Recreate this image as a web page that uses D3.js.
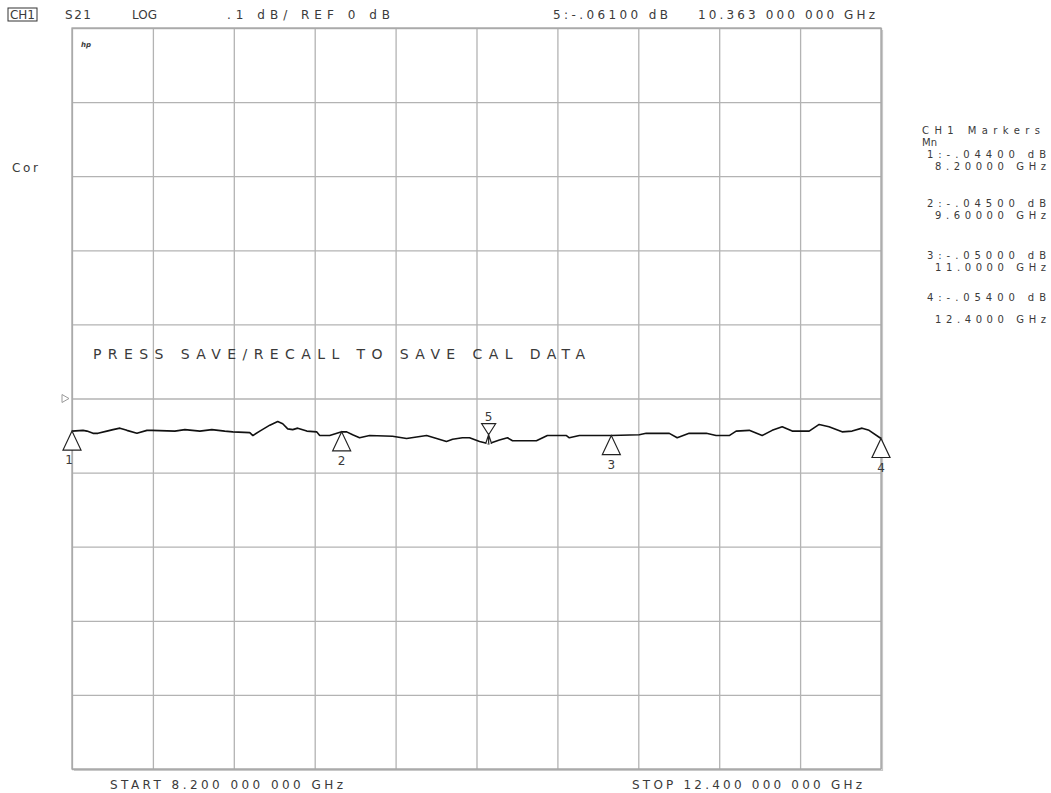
<!DOCTYPE html>
<html>
<head>
<meta charset="utf-8">
<script src="https://cdn.jsdelivr.net/npm/d3@7"></script>
<style>
  body { margin: 0; background: #fff; }
  text { font-family: "DejaVu Sans", sans-serif; fill: #3a3a3a; }
</style>
</head>
<body>
<svg id="vna" width="1051" height="793"></svg>
<script>
// S21 trace (GHz / dB)
const freqGHz = [8.200, 8.257, 8.278, 8.309, 8.335, 8.381, 8.413, 8.449, 8.485, 8.537,
  8.589, 8.615, 8.734, 8.786, 8.864, 8.926, 8.993, 9.035, 9.123, 9.139,
  9.175, 9.227, 9.268, 9.294, 9.320, 9.346, 9.372, 9.419, 9.470, 9.486,
  9.538, 9.600, 9.626, 9.657, 9.693, 9.745, 9.864, 9.937, 10.041, 10.093,
  10.144, 10.176, 10.227, 10.264, 10.316, 10.363, 10.419, 10.461, 10.487, 10.611,
  10.668, 10.767, 10.782, 10.834, 11.000, 11.145, 11.181, 11.301, 11.342, 11.404,
  11.493, 11.544, 11.612, 11.648, 11.716, 11.783, 11.835, 11.887, 11.939, 12.027,
  12.079, 12.130, 12.198, 12.250, 12.302, 12.338, 12.400];
const s21dB = [-0.044, -0.043, -0.044, -0.047, -0.047, -0.044, -0.042, -0.040, -0.043, -0.047,
  -0.043, -0.043, -0.044, -0.042, -0.044, -0.042, -0.044, -0.045, -0.046, -0.050,
  -0.044, -0.036, -0.031, -0.034, -0.041, -0.042, -0.040, -0.044, -0.045, -0.050,
  -0.050, -0.045, -0.045, -0.049, -0.053, -0.050, -0.051, -0.054, -0.050, -0.054,
  -0.058, -0.055, -0.053, -0.053, -0.058, -0.061, -0.056, -0.053, -0.057, -0.057,
  -0.050, -0.050, -0.053, -0.050, -0.050, -0.049, -0.047, -0.047, -0.053, -0.047,
  -0.047, -0.050, -0.050, -0.044, -0.043, -0.050, -0.043, -0.038, -0.044, -0.044,
  -0.035, -0.038, -0.045, -0.044, -0.040, -0.043, -0.054];

// markers
const markerNo = [1, 2, 3, 4, 5];
const markerGHz = [8.2, 9.6, 11.0, 12.4, 10.363];
const markerdB = [-0.044, -0.045, -0.050, -0.054, -0.061];
const activeMarker = 5;

// graticule: 10 x 10 divisions, .1 dB/div, ref 0 dB at centre
const xGridGHz = [8.2, 8.62, 9.04, 9.46, 9.88, 10.3, 10.72, 11.14, 11.56, 11.98, 12.4];
const yGriddB = [-0.5, -0.4, -0.3, -0.2, -0.1, 0, 0.1, 0.2, 0.3, 0.4, 0.5];
const refdB = 0;

// screen annotations
const headerTexts = ["S21", "LOG", ".1 dB/ REF 0 dB", "5:-.06100 dB", "10.363 000 000 GHz"];
const markerListLines = ["CH1 Markers", "M n", "1:-.04400 dB", "8.20000 GHz", "2:-.04500 dB", "9.60000 GHz",
  "3:-.05000 dB", "11.0000 GHz", "4:-.05400 dB", "12.4000 GHz"];
const startLabel = "START  8.200 000 000 GHz";
const stopLabel = "STOP 12.400 000 000 GHz";
const promptLabel = "PRESS  SAVE/RECALL  TO  SAVE  CAL  DATA";

const frame = { left: 72, right: 881, top: 28, bottom: 769 };
const svg = d3.select("#vna");

const x = d3.scaleLinear().domain([8.2, 12.4]).range([frame.left, frame.right]);
const y = d3.scaleLinear().domain([-0.5, 0.5]).range([frame.bottom, frame.top]);

// grid lines through axes with full-length ticks
const gridColor = "#b3b3b3";
const gx = svg.append("g")
  .attr("transform", `translate(0,${ frame.bottom })`)
  .call(d3.axisBottom(x).tickValues(xGridGHz).tickSize(-(frame.bottom - frame.top)).tickFormat(""));
const gy = svg.append("g")
  .attr("transform", `translate(${ frame.left },0)`)
  .call(d3.axisLeft(y).tickValues(yGriddB).tickSize(-(frame.right - frame.left)).tickFormat(""));
[gx, gy].forEach(g =>
{
  g.select(".domain").remove();
  g.selectAll(".tick line").attr("stroke", gridColor).attr("stroke-width", 1.3);
});

// frame with a little shadow on right / bottom
svg.append("rect")
  .attr("x", frame.left).attr("y", frame.top)
  .attr("width", frame.right - frame.left).attr("height", frame.bottom - frame.top)
  .attr("fill", "none").attr("stroke", "#a6a6a6").attr("stroke-width", 1.3);
svg.append("path")
  .attr("d", `M${ frame.right + 1.5 },${ frame.top + 2 }V${ frame.bottom + 1.5 }H${ frame.left + 2 }`)
  .attr("fill", "none").attr("stroke", "#c8c8c8").attr("stroke-width", 1.2);

// reference level pointer
svg.append("path")
  .attr("d", `M${ frame.left - 10 },${ y(refdB) - 4 }l7,4l-7,4z`)
  .attr("fill", "none").attr("stroke", "#9a9a9a").attr("stroke-width", 1);

// trace
const traceData = freqGHz.map((f, i) => ({ f, v: s21dB[i] }));
svg.append("path")
  .datum(traceData)
  .attr("fill", "none")
  .attr("stroke", "#111")
  .attr("stroke-width", 1.6)
  .attr("stroke-linejoin", "bevel")
  .attr("d", d3.line().x(d => x(d.f)).y(d => y(d.v)));

// markers
const markers = markerNo.map((n, i) => ({ n, f: markerGHz[i], v: markerdB[i] }));
const mk = svg.append("g").selectAll("g")
  .data(markers)
  .enter()
  .append("g")
  .attr("transform", d => `translate(${ x(d.f) },${ y(d.v) })`);

mk.append("path")
  .attr("d", d => d.n === activeMarker
    ? "M-7,-20H7L0,-9ZM0,-9V0M-3,0L0,-9L3,0"
    : "M0,0L-9,19H9Z")
  .attr("fill", "#fff")
  .attr("stroke", "#222")
  .attr("stroke-width", 1.2);

mk.append("text")
  .attr("x", d => d.n === 1 ? -3 : 0)
  .attr("y", d => d.n === activeMarker ? -23 : 33)
  .attr("text-anchor", "middle")
  .style("font-size", "12px")
  .text(d => d.n);

// text helper; textLength gives the wide, bitmap-like spacing of the analyzer font
function label(str, px, py, len, anchor = "start", size = 12)
{
  return svg.append("text")
    .attr("x", px).attr("y", py)
    .attr("text-anchor", anchor)
    .attr("textLength", len)
    .attr("lengthAdjust", "spacing")
    .style("font-size", size + "px")
    .text(str);
}

// header line
svg.append("rect").attr("x", 8).attr("y", 8).attr("width", 29).attr("height", 13)
  .attr("fill", "none").attr("stroke", "#333").attr("stroke-width", 1);
label("CH1", 10, 19, 25);
label(headerTexts[0], 65, 19, 26);
label(headerTexts[1], 132, 19, 25);
label(headerTexts[2], 227, 19, 163);
label(headerTexts[3], 553, 19, 115);
label(headerTexts[4], 698, 19, 177);

// little hp mark in the corner of the graticule
svg.append("text").attr("x", 81).attr("y", 47)
  .style("font-size", "7px").style("font-weight", "bold").style("font-style", "italic")
  .text("hp");

label("Cor", 12, 172, 26);

// marker list on the right
const listY = [134, 146, 158, 170, 207, 219, 259, 271, 301, 323];
markerListLines.forEach((s, i) =>
{
  const len = i === 1 ? 15 : (i === 0 ? 118 : (i % 2 === 0 ? 119 : 111));
  label(s, i < 2 ? 922 : 1046, listY[i], len, i < 2 ? "start" : "end", 10);
});

label(promptLabel, 93, 359, 492, "start", 14);
label(startLabel, 110, 789, 233);
label(stopLabel, 632, 789, 230);
</script>
</body>
</html>
